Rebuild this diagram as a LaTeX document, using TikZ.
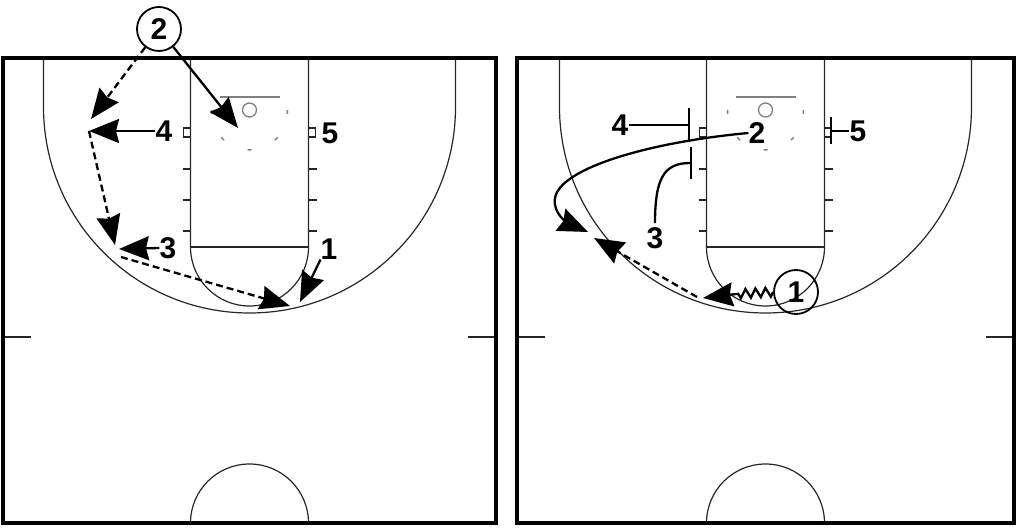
\documentclass[tikz,border=0pt]{standalone}
\usepackage{fontspec}
\setmainfont{Liberation Sans}
\usetikzlibrary{arrows.meta,decorations.pathmorphing}
\newcommand{\courtmarks}[3]{%
  \begin{scope}[shift={(#1,0)}]
    \draw[courtline] (-59,58) -- (-59,247) arc(180:0:59) -- (59,58);
    \draw[courtline] (-59,247) -- (59,247);
    \draw[courtline] (-206,58) -- (-206,107) arc(180:0:206) -- (206,58);
    \draw[gray, line width=2.2pt] (-30,97) -- (30,97);
    \draw[gray, line width=1.3pt] (0,110) circle[radius=7];
    \draw[gray, line width=1.5pt, dash pattern=on 4pt off 25.85pt] (0,112) ++(183:38) arc(183:-3:38);
    \draw[courtline] (-66,128) rectangle (-59,137);
    \draw[courtline] (59,128) rectangle (66,137);
    \foreach \yy in {169,200,231} {
      \draw[courtline] (-67,\yy) -- (-59,\yy);
      \draw[courtline] (59,\yy) -- (67,\yy);
    }
    \draw[courtline] (-59,523) arc(180:360:59);
  \end{scope}
  \draw[courtline] (#2,337) -- ++(28,0);
  \draw[courtline] (#3,337) -- ++(-28,0);
  \draw[border] (#2,58) rectangle (#3,523);
}
\begin{document}
\begin{tikzpicture}[x=1pt,y=-1pt,
  courtline/.style={line width=1.2pt, draw=black!85},
  border/.style={line width=3.8pt, draw=black},
  play/.style={line width=2.3pt, draw=black},
  movearrow/.style={play, -{Stealth[length=30pt,width=24pt,inset=3pt]}},
  passarrow/.style={movearrow, dash pattern=on 7pt off 4pt},
  num/.style={font=\fontsize{30}{30}\selectfont\bfseries, inner sep=0pt},
  player/.style={num, circle, draw, line width=1.8pt, minimum size=44pt},
]
\useasboundingbox (0,0) rectangle (1033,529);

% courts
\courtmarks{249.5}{3}{496}
\courtmarks{765.5}{517}{1014}

% ---------- left diagram ----------
\node[player] (L2) at (159,29) {2};
\node[num] (L4) at (164,131) {4};
\node[num] (L3) at (168,248) {3};
\node[num] (L1) at (329,249) {1};
\node[num] (L5) at (330,133) {5};
\coordinate (Lwing) at (91,119);
\coordinate (Lbasket) at (238,128);
\coordinate (L4tip) at (89,131);
\coordinate (Ldn) at (115,245);
\coordinate (L3tip) at (119,249);
\coordinate (Lcorner) at (121,257);
\coordinate (Lbot) at (290,306);
\coordinate (L1tip) at (300,302);

\draw[passarrow] (L2) -- (Lwing);
\draw[movearrow] (L2) -- (Lbasket);
\draw[movearrow] (L4.west) -- (L4tip);
\draw[passarrow] (L4tip) -- (Ldn);
\draw[movearrow] (L3.west) -- (L3tip);
\draw[passarrow] (Lcorner) -- (Lbot);
\draw[movearrow] (L1.south west) -- (L1tip);

% ---------- right diagram ----------
\node[num] (R4) at (620,125) {4};
\node[num] (R2) at (757,133) {2};
\node[num] (R5) at (858,131) {5};
\node[num] (R3) at (655,238) {3};
\node[player] (R1) at (796,292) {1};
\coordinate (R4s) at (690,125);
\coordinate (R3s) at (692,163);
\coordinate (R5s) at (830,131);
\coordinate (Rcut) at (588,232);
\coordinate (Rz) at (736,294);
\coordinate (Rdrib) at (703,298);
\coordinate (Rpass0) at (697,297);
\coordinate (Rpass1) at (594,238);

\draw[play, -{Bar[width=34pt]}] (R4.east) -- (R4s);
\draw[play, -{Bar[width=32pt]}, shorten <=4pt] (R3.north) .. controls (655,178) and (664,163) .. (R3s);
\draw[play, -{Bar[width=27pt]}] (R5.west) -- (R5s);
\draw[movearrow] (R2.west) .. controls (650,142) and (560,168) .. (555,198) .. controls (552,214) and (570,224) .. (Rcut);
\draw[play, decorate, decoration={zigzag, segment length=10pt, amplitude=4.5pt}] (R1.west) -- (Rz);
\draw[movearrow] (Rz) -- (Rdrib);
\draw[passarrow] (Rpass0) -- (Rpass1);
\end{tikzpicture}
\end{document}
